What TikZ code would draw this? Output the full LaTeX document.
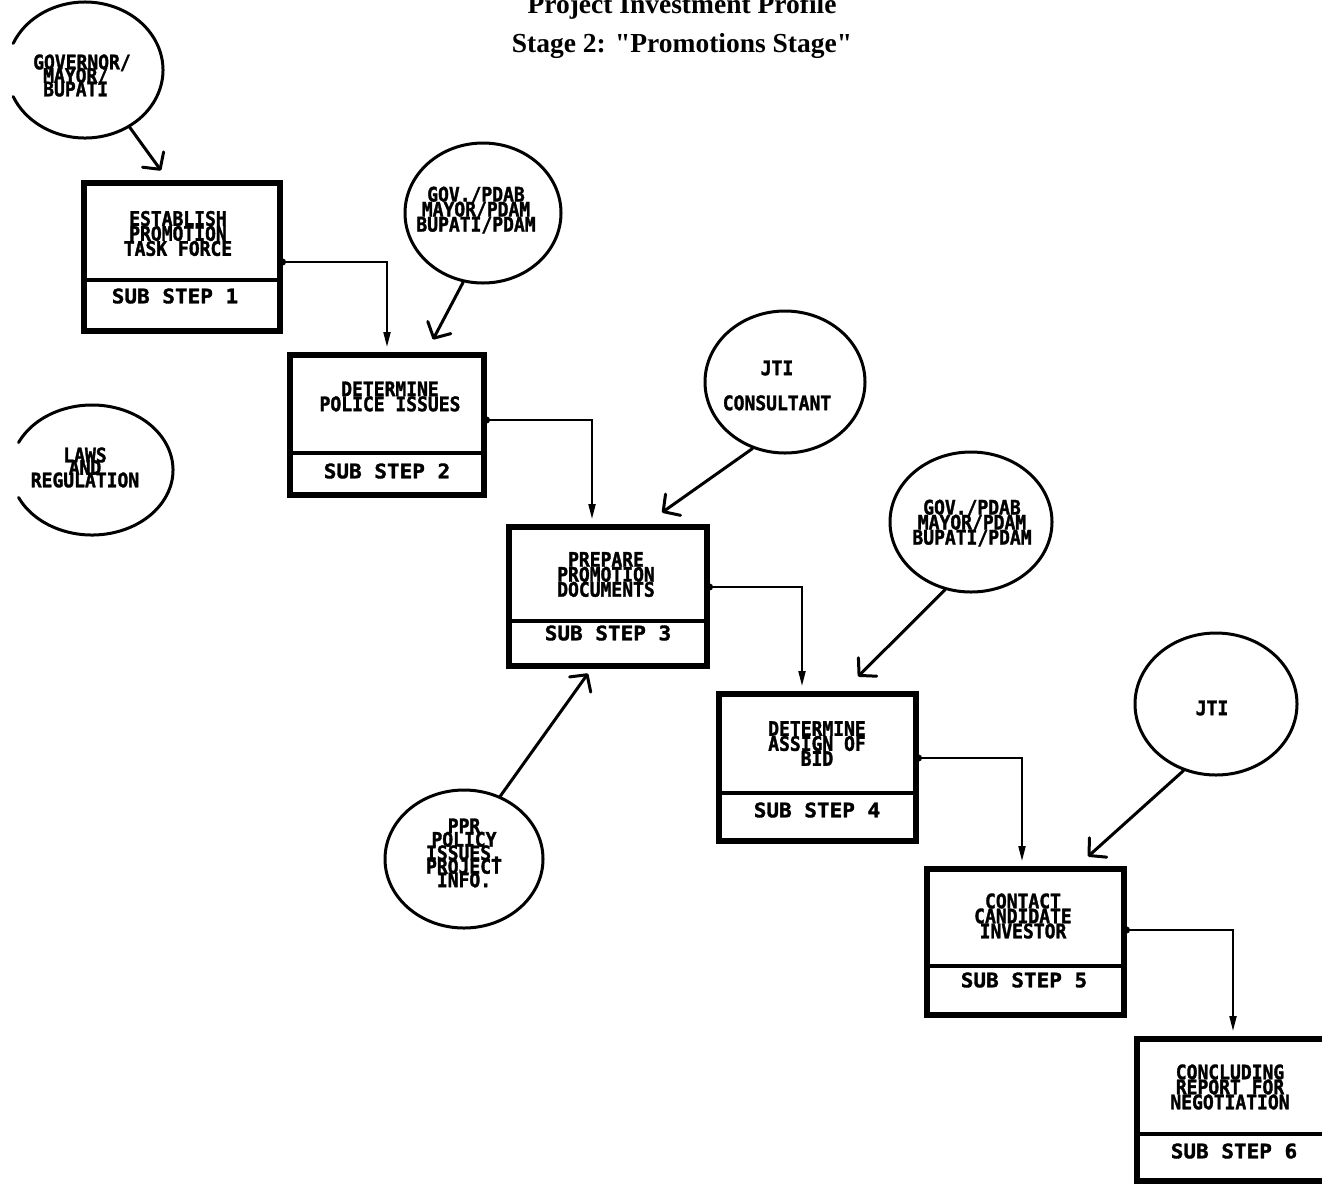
\documentclass[tikz,border=0pt]{standalone}
\usepackage{fontspec}
\usetikzlibrary{arrows.meta,shapes.geometric}
\newfontfamily\boxfont{DejaVu Sans Mono Bold}[FakeStretch=0.9, FakeBold=1.6]
\newfontfamily\subfont{DejaVu Sans Mono Bold}[FakeStretch=1.05, FakeBold=1.6]
\newfontfamily\titlefont{Liberation Serif Bold}
\lineskiplimit=-100pt
\begin{document}
\begin{tikzpicture}[x=1pt,y=-1pt,
  stepbox/.style={draw, line width=6pt, rectangle, inner sep=0pt},
  ring/.style={draw, line width=3pt, ellipse, inner sep=0pt},
  hole/.style={ellipse, inner sep=0pt},
  arcline/.style={line width=3pt, line cap=round},
  lbl/.style={font=\boxfont\fontsize{20}{15}\selectfont, align=center, inner sep=0pt},
  sublbl/.style={font=\subfont\fontsize{20}{15}\selectfont, inner sep=0pt},
  headline/.style={font=\titlefont\fontsize{27.5}{27.5}\selectfont, anchor=base, inner sep=0pt},
  flow/.style={line width=2pt, shorten <=-4pt, shorten >=5pt,
    {Circle[length=7pt]}-{Triangle[length=15pt,width=7pt]}},
  feed/.style={line width=3pt, line cap=round, -{Straight Barb[length=12pt,width=26pt,round]}},
  divider/.style={line width=3.5pt}
]
\useasboundingbox (0,0) rectangle (1322,1187);
\clip (0,0) rectangle (1322,1187);
\fill[white] (0,0) rectangle (1322,1187);

% heading
\node[headline] (t1) at (682,13) {Project Investment Profile};
\node[headline] (t2) at (682,52) {Stage 2: "Promotions Stage"};

% sub-step boxes
\node[stepbox, minimum width=196pt, minimum height=148pt] (b1) at (182,257) {};
\node[stepbox, minimum width=194pt, minimum height=140pt] (b2) at (387,425) {};
\node[stepbox, minimum width=198pt, minimum height=139pt] (b3) at (608,596.5) {};
\node[stepbox, minimum width=197pt, minimum height=147pt] (b4) at (817.5,767.5) {};
\node[stepbox, minimum width=197pt, minimum height=146pt] (b5) at (1025.5,942) {};
\node[stepbox, minimum width=200pt, minimum height=142pt] (b6) at (1237,1110) {};

\draw[divider] (b1.west |- 0,280) -- (b1.east |- 0,280);
\draw[divider] (b2.west |- 0,453) -- (b2.east |- 0,453);
\draw[divider] (b3.west |- 0,621) -- (b3.east |- 0,621);
\draw[divider] (b4.west |- 0,793) -- (b4.east |- 0,793);
\draw[divider] (b5.west |- 0,966) -- (b5.east |- 0,966);
\draw[divider] (b6.west |- 0,1134) -- (b6.east |- 0,1134);

\node[lbl] (b1t) at (178,233.5) {ESTABLISH\\PROMOTION\\TASK FORCE};
\node[lbl] (b2t) at (390,396.5) {DETERMINE\\POLICE ISSUES};
\node[lbl] (b3t) at (606,574.5) {PREPARE\\PROMOTION\\DOCUMENTS};
\node[lbl] (b4t) at (817,743.5) {DETERMINE\\ASSIGN OF\\BID};
\node[lbl] (b5t) at (1023,916) {CONTACT\\CANDIDATE\\INVESTOR};
\node[lbl] (b6t) at (1230,1087) {CONCLUDING\\REPORT FOR\\NEGOTIATION};

\node[sublbl] (b1s) at (175,296) {SUB STEP 1};
\node[sublbl] (b2s) at (387,471) {SUB STEP 2};
\node[sublbl] (b3s) at (608,633) {SUB STEP 3};
\node[sublbl] (b4s) at (817,810) {SUB STEP 4};
\node[sublbl] (b5s) at (1024,980) {SUB STEP 5};
\node[sublbl] (b6s) at (1234,1151) {SUB STEP 6};

% actors and inputs
\node[hole, minimum width=156pt, minimum height=136pt] (c1) at (85,70) {};
\draw[arcline] ([shift={(157:78pt and 68pt)}]c1.center)
  arc[start angle=157, end angle=-157, x radius=78pt, y radius=68pt];
\node[lbl, align=left, anchor=west, font=\boxfont\fontsize{20}{13.5}\selectfont]
  (c1t) at (33,75.5) {GOVERNOR/\\\hspace*{10pt}MAYOR/\\\hspace*{10pt}BUPATI};

\node[ring, minimum width=156pt, minimum height=140pt] (c2) at (483,213) {};
\node[lbl] (c2t) at (476,210) {GOV./PDAB\\MAYOR/PDAM\\BUPATI/PDAM};

\node[ring, minimum width=160pt, minimum height=142pt] (c3) at (785,382) {};
\node[lbl] (c3t) at (777,385.5) {JTI\\[20pt]CONSULTANT};

\node[ring, minimum width=162pt, minimum height=140pt] (c4) at (971,522) {};
\node[lbl] (c4t) at (972,523) {GOV./PDAB\\MAYOR/PDAM\\BUPATI/PDAM};

\node[ring, minimum width=162pt, minimum height=142pt] (c5) at (1216,704) {};
\node[lbl] (c5t) at (1212,708) {JTI};

\node[hole, minimum width=162pt, minimum height=130pt] (c6) at (92,470) {};
\draw[arcline] ([shift={(155:81pt and 65pt)}]c6.center)
  arc[start angle=155, end angle=-155, x radius=81pt, y radius=65pt];
\node[lbl, font=\boxfont\fontsize{20}{12.5}\selectfont] (c6t) at (85,467.5) {LAWS\\AND\\REGULATION};

\node[ring, minimum width=158pt, minimum height=138pt] (c7) at (464,859) {};
\node[lbl, font=\boxfont\fontsize{20}{13.5}\selectfont] (c7t) at (464,853) {PPR\\POLICY\\ISSUES.\\PROJECT\\INFO.};

% step sequence
\draw[flow] ([yshift=-5pt]b1.east) -| (b2.north);
\draw[flow] ([yshift=5pt]b2.east) -| ([xshift=-16pt]b3.north);
\draw[flow] ([yshift=9.5pt]b3.east) -| ([xshift=-15.5pt]b4.north);
\draw[flow] ([yshift=9.5pt]b4.east) -| ([xshift=-3.5pt]b5.north);
\draw[flow] ([yshift=12pt]b5.east) -| ([xshift=-4pt]b6.north);

% inputs into the steps
\draw[feed] (c1.308) -- ([xshift=-21pt,yshift=9.5pt]b1.north);
\draw[feed] (c2.254) -- ([xshift=46pt,yshift=12.5pt]b2.north);
\draw[feed] (c3.244) -- ([xshift=54pt,yshift=11.5pt]b3.north);
\draw[feed] (c4.249) -- ([xshift=40.5pt,yshift=14.5pt]b4.north);
\draw[feed] (c5.244) -- ([xshift=62.5pt,yshift=9.5pt]b5.north);
\draw[feed] (c7.60) -- ([xshift=-20pt,yshift=-4.5pt]b3.south);
\end{tikzpicture}
\end{document}
